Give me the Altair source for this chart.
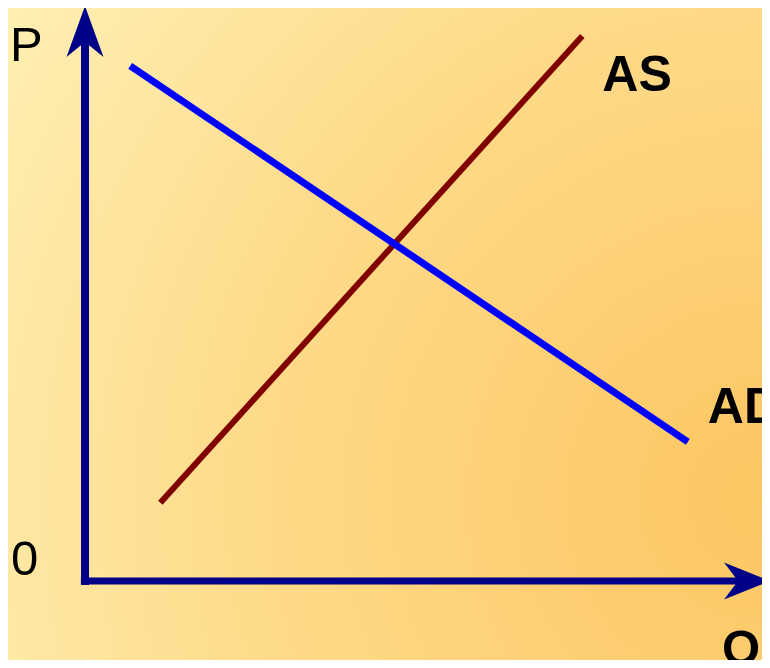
import altair as alt
import pandas as pd

# ---- data (economic units: quantity Q, price P) ----
ad_q = [0.66, 8.80]
ad_p = [8.96, 2.42]
as_q = [1.10, 7.26]
as_p = [1.36, 9.48]
axis_max = 10.0          # arrow tips of both axes
labels_axis = ["P", "0", "Q"]
labels_curve = ["AS", "AD"]

W, H = 754, 652
# scale domains chosen so the origin sits at the same place as in the figure
x_scale = alt.Scale(domain=[-1.124, 9.883], nice=False, zero=False)
y_scale = alt.Scale(domain=[-1.374, 9.965], nice=False, zero=False)

X = lambda f: alt.X(f, type="quantitative", scale=x_scale, axis=None)
Y = lambda f: alt.Y(f, type="quantitative", scale=y_scale, axis=None)

ad_df = pd.DataFrame({"q": ad_q, "p": ad_p})
as_df = pd.DataFrame({"q": as_q, "p": as_p})

bg = alt.Chart(pd.DataFrame({"a": [0]})).mark_rect(
    fill=alt.Gradient(
        gradient="radial",
        x1=1.0, y1=0.72, r1=0.0,
        x2=1.0, y2=0.72, r2=1.25,
        stops=[
            alt.GradientStop(offset=0.0, color="#FCC661"),
            alt.GradientStop(offset=0.55, color="#FEDB8A"),
            alt.GradientStop(offset=1.0, color="#FFF2B8"),
        ],
    ),
    stroke=None,
).encode(x=alt.value(0), x2=alt.value(W), y=alt.value(0), y2=alt.value(H))

axis_df = pd.DataFrame({"q0": [-0.06], "q1": [axis_max - 0.45], "p0": [-0.07], "p1": [axis_max - 0.62], "z": [0.0]})

h_axis = alt.Chart(axis_df).mark_rule(color="#000088", strokeWidth=7, strokeCap="butt").encode(
    x=X("q0"), x2="q1", y=Y("z")
)
v_axis = alt.Chart(axis_df).mark_rule(color="#000088", strokeWidth=8, strokeCap="butt").encode(
    x=X("z"), y=Y("p0"), y2="p1"
)

tips = pd.DataFrame({"q": [0.0], "p": [axis_max], "qt": [axis_max], "pt": [0.0]})
up_arrow = alt.Chart(tips).mark_point(
    shape="M0,0 L0.725,2 L0,1.41 L-0.725,2 Z", size=51 * 51, filled=True,
    color="#000088", opacity=1, strokeWidth=0,
).encode(x=X("q"), y=Y("p"))
right_arrow = alt.Chart(tips).mark_point(
    shape="M0,0 L-2,-0.8 L-1.39,0 L-2,0.8 Z", size=46 * 46, filled=True,
    color="#000088", opacity=1, strokeWidth=0,
).encode(x=X("qt"), y=Y("pt"))

ad_line = alt.Chart(ad_df).mark_line(color="#0000FF", strokeWidth=7, strokeCap="butt").encode(
    x=X("q"), y=Y("p")
)
as_line = alt.Chart(as_df).mark_line(color="#800000", strokeWidth=6, strokeCap="butt").encode(
    x=X("q"), y=Y("p")
)

font = "Liberation Sans"
p_lab = alt.Chart(tips).mark_text(
    text=labels_axis[0], font=font, fontSize=49, align="left", baseline="alphabetic",
    dx=-75, dy=55, color="#000000",
).encode(x=X("q"), y=Y("p"))
zero_lab = alt.Chart(tips).mark_text(
    text=labels_axis[1], font=font, fontSize=49, align="left", baseline="alphabetic",
    dx=-74, dy=-6, color="#000000",
).encode(x=X("q"), y=Y("pt"))
q_lab = alt.Chart(tips).mark_text(
    text=labels_axis[2], font=font, fontSize=49, fontWeight="bold", align="left",
    baseline="alphabetic", dx=-48, dy=83, color="#000000",
).encode(x=X("qt"), y=Y("pt"))

as_end = pd.DataFrame({"q": [as_q[-1]], "p": [as_p[-1]]})
ad_end = pd.DataFrame({"q": [ad_q[-1]], "p": [ad_p[-1]]})
as_lab = alt.Chart(as_end).mark_text(
    text=labels_curve[0], font=font, fontSize=50, fontWeight="bold", align="left",
    baseline="alphabetic", dx=20, dy=55, color="#000000",
).encode(x=X("q"), y=Y("p"))
ad_lab = alt.Chart(ad_end).mark_text(
    text=labels_curve[1], font=font, fontSize=50, fontWeight="bold", align="left",
    baseline="alphabetic", dx=20, dy=-19, color="#000000",
).encode(x=X("q"), y=Y("p"))

chart = alt.layer(
    bg, as_line, ad_line, h_axis, v_axis, up_arrow, right_arrow,
    p_lab, zero_lab, q_lab, as_lab, ad_lab,
).properties(
    width=W, height=H, padding=0, autosize=alt.AutoSizeParams(type="none"),
).configure_view(stroke=None).configure(background="#FFEFB2")

chart.save("out.html", embed_options={"renderer": "svg", "actions": False})
